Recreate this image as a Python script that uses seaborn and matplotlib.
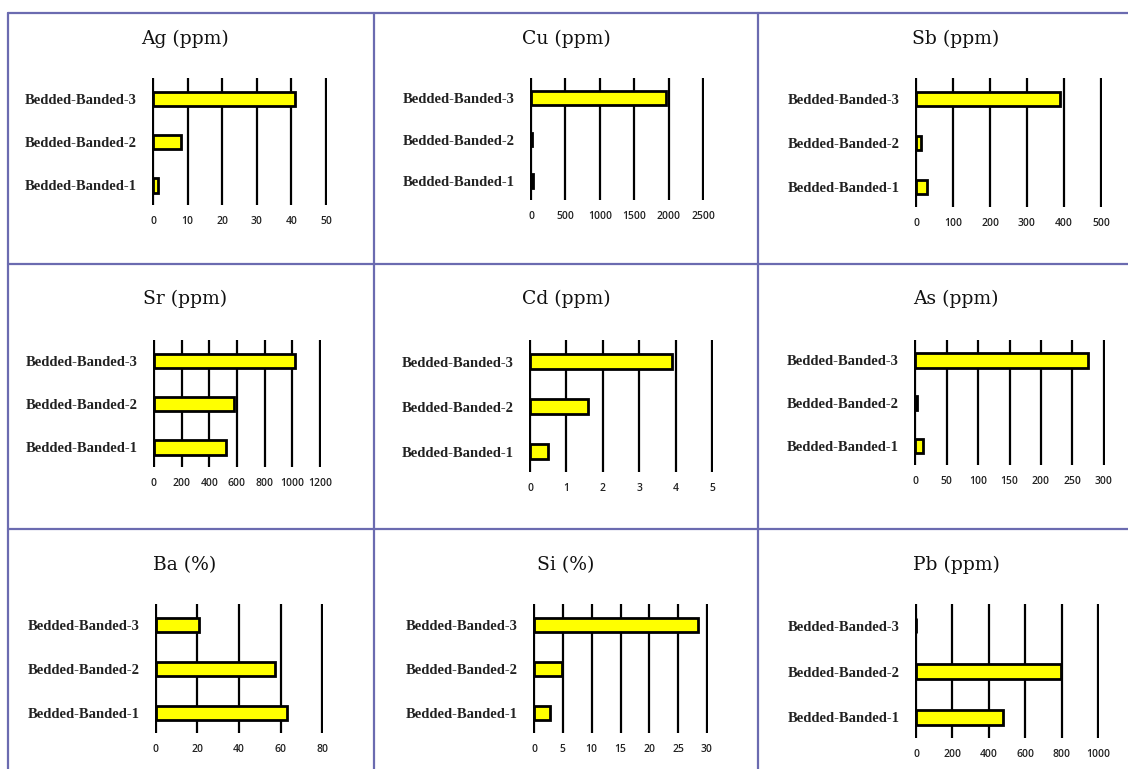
import seaborn as sns
import matplotlib.pyplot as plt
import pandas as pd
from matplotlib.lines import Line2D

# data
samples = ['Bedded-Banded-3', 'Bedded-Banded-2', 'Bedded-Banded-1']
titles = ['Ag (ppm)', 'Cu (ppm)', 'Sb (ppm)',
          'Sr (ppm)', 'Cd (ppm)', 'As (ppm)',
          'Ba (%)', 'Si (%)', 'Pb (ppm)']
ag = [41, 8, 1.5]
cu = [1960, 20, 30]
sb = [390, 12, 30]
sr = [1020, 580, 520]
cd = [3.9, 1.6, 0.5]
as_ = [275, 3, 12]
ba = [20.5, 57.5, 63]
si = [28.5, 4.8, 2.8]
pb = [0, 795, 480]
values = [ag, cu, sb, sr, cd, as_, ba, si, pb]
xticks = [[0, 10, 20, 30, 40, 50],
          [0, 500, 1000, 1500, 2000, 2500],
          [0, 100, 200, 300, 400, 500],
          [0, 200, 400, 600, 800, 1000, 1200],
          [0, 1, 2, 3, 4, 5],
          [0, 50, 100, 150, 200, 250, 300],
          [0, 20, 40, 60, 80],
          [0, 5, 10, 15, 20, 25, 30],
          [0, 200, 400, 600, 800, 1000]]

# axes boxes in pixels: left, top, right, bottom
boxes = [(152, 78, 327, 205), (530, 78, 704, 200), (915, 78, 1102, 207),
         (153, 340, 321, 467), (529, 340, 713, 472), (914, 340, 1105, 465),
         (155, 604, 323, 733), (533, 604, 708, 733), (915, 604, 1099, 738)]
title_x = [185, 566, 956]
title_y = [39, 299, 565]

W, H = 1128, 769
sns.set_theme(style='white')
fig = plt.figure(figsize=(W / 100, H / 100), dpi=100)
fig.patch.set_facecolor('white')

border = '#6b6bb0'
for yy in [13, 264, 529]:
    fig.add_artist(Line2D([8 / W, 1], [1 - yy / H] * 2, color=border, lw=1.6))
for xx in [8, 374, 758]:
    fig.add_artist(Line2D([xx / W] * 2, [1 - 13 / H, 0], color=border, lw=1.6))

for i, (title, vals, ticks, box) in enumerate(zip(titles, values, xticks, boxes)):
    l, t, r, b = box
    ax = fig.add_axes([l / W, 1 - b / H, (r - l) / W, (b - t) / H])
    df = pd.DataFrame({'sample': samples, 'value': vals})
    sns.barplot(data=df, x='value', y='sample', order=samples, orient='h',
                color='#ffff00', edgecolor='black', linewidth=2,
                width=0.33, saturation=1, ax=ax, zorder=3)
    xmax = ticks[-1]
    ax.set_xlim(-xmax * 0.006, xmax * 1.006)
    ax.set_ylim(2.45, -0.48)
    ax.set_xticks(ticks)
    for tk in ticks:
        ax.axvline(tk, color='black', lw=1.6, zorder=1)
    for s in ax.spines.values():
        s.set_visible(False)
    ax.set_xlabel('')
    ax.set_ylabel('')
    ax.tick_params(axis='both', length=0)
    ax.tick_params(axis='x', pad=8)
    ax.tick_params(axis='y', pad=11)
    for lab in ax.get_xticklabels():
        lab.set_fontfamily('Open Sans')
        lab.set_fontsize(7.5)
        lab.set_fontweight('semibold')
        lab.set_color('#222222')
    for lab in ax.get_yticklabels():
        lab.set_fontfamily('Liberation Serif')
        lab.set_fontsize(10.5)
        lab.set_fontweight('bold')
        lab.set_color('#222222')
    fig.text(title_x[i % 3] / W, 1 - title_y[i // 3] / H, title,
             ha='center', va='center', fontsize=13.5,
             fontfamily='DejaVu Serif', color='#111111')

fig.savefig('out.png', dpi=100, facecolor='white')
